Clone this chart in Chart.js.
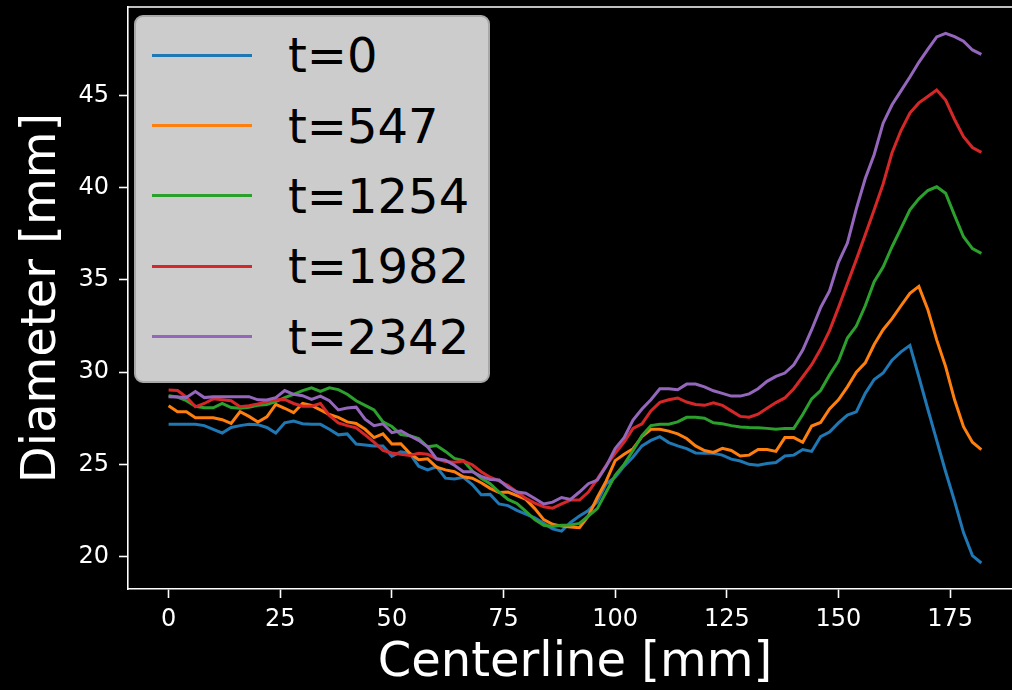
<!DOCTYPE html>
<html>
<head>
<meta charset="utf-8">
<script src="https://cdn.jsdelivr.net/npm/chart.js@4.4.1/dist/chart.umd.min.js"></script>
<style>
  html, body { margin: 0; padding: 0; background: #000; overflow: hidden; width: 1012px; height: 690px; }
  #wrap { position: relative; width: 1022px; height: 690px; }
  #legend {
    position: absolute; left: 134px; top: 15px; width: 356px; height: 368px;
    box-sizing: border-box; background: #cccccc; border: 2px solid #a8a8a8; border-radius: 9px;
    padding-top: 3px; font-family: "DejaVu Sans"; font-size: 48px; color: #000;
  }
  .row { display: flex; align-items: center; height: 70.4px; }
  .swatch { margin-left: 16px; width: 100px; height: 3px; }
  .label { margin-left: 36px; white-space: nowrap; line-height: 1; }
</style>
</head>
<body>
<div id="wrap">
  <canvas id="chart" width="1022" height="690"></canvas>
  <div id="legend"></div>
</div>
<script>
// centerline positions [mm]
var centerline = [0, 2, 4, 6, 8, 10, 12, 14, 16, 18, 20, 22, 24, 26, 28, 30, 32, 34, 36, 38,
  40, 42, 44, 46, 48, 50, 52, 54, 56, 58, 60, 62, 64, 66, 68, 70, 72, 74, 76, 78,
  80, 82, 84, 86, 88, 90, 92, 94, 96, 98, 100, 102, 104, 106, 108, 110, 112, 114, 116, 118,
  120, 122, 124, 126, 128, 130, 132, 134, 136, 138, 140, 142, 144, 146, 148, 150, 152, 154, 156, 158,
  160, 162, 164, 166, 168, 170, 172, 174, 176, 178, 180, 182];

// diameter [mm] per time step
var d0 = [27.17, 27.17, 27.17, 27.17, 27.1, 26.9, 26.7, 27.0, 27.1, 27.17, 27.15, 27.0, 26.7, 27.25, 27.35, 27.2, 27.17, 27.17, 26.9, 26.6,
  26.65, 26.1, 26.05, 26.0, 26.0, 25.45, 25.68, 25.6, 24.9, 24.7, 24.87, 24.25, 24.2, 24.3, 23.9, 23.35, 23.37, 22.85, 22.76, 22.5,
  22.3, 22.1, 21.8, 21.5, 21.38, 21.85, 22.2, 22.5, 22.97, 23.95, 24.3, 24.9, 25.4, 26.0, 26.3, 26.5, 26.18, 26.0, 25.85, 25.62,
  25.6, 25.6, 25.5, 25.28, 25.18, 25.0, 24.95, 25.05, 25.1, 25.45, 25.5, 25.8, 25.7, 26.5, 26.75, 27.25, 27.67, 27.85, 28.85, 29.6,
  29.95, 30.65, 31.1, 31.45, 29.75, 28.0, 26.3, 24.6, 23.0, 21.3, 20.05, 19.65];
var d547 = [28.18, 27.85, 27.85, 27.53, 27.53, 27.53, 27.42, 27.22, 27.85, 27.6, 27.3, 27.58, 28.25, 28.04, 27.8, 28.3, 28.2, 27.95, 27.7, 27.55,
  27.3, 27.22, 26.9, 26.45, 26.65, 26.1, 26.12, 25.6, 25.25, 25.3, 24.85, 24.7, 24.6, 24.33, 24.25, 24.0, 23.7, 23.47, 23.5, 23.3,
  23.1, 22.6, 22.0, 21.75, 21.65, 21.6, 21.56, 22.2, 23.2, 24.1, 25.2, 25.55, 25.85, 26.5, 26.9, 26.9, 26.8, 26.65, 26.4, 26.0,
  25.75, 25.65, 25.87, 25.75, 25.45, 25.5, 25.8, 25.8, 25.7, 26.45, 26.45, 26.2, 27.08, 27.27, 28.0, 28.5, 29.2, 30.0, 30.5, 31.5,
  32.3, 32.9, 33.6, 34.27, 34.65, 33.4, 31.75, 30.3, 28.5, 27.04, 26.2, 25.8];
var d1254 = [28.72, 28.65, 28.45, 28.15, 28.07, 28.07, 28.31, 28.08, 28.04, 28.1, 28.2, 28.25, 28.4, 28.62, 28.8, 29.0, 29.15, 28.95, 29.15, 29.05,
  28.8, 28.45, 28.2, 27.95, 27.3, 27.05, 26.62, 26.55, 26.4, 25.95, 26.02, 25.7, 25.32, 25.2, 24.65, 24.25, 23.95, 23.5, 23.1, 22.88,
  22.45, 22.0, 21.7, 21.63, 21.7, 21.71, 21.8, 22.2, 22.6, 23.5, 24.4, 25.0, 25.75, 26.55, 27.1, 27.17, 27.17, 27.3, 27.55, 27.55,
  27.5, 27.25, 27.2, 27.1, 27.03, 27.0, 26.99, 26.95, 26.9, 26.95, 26.95, 27.7, 28.55, 29.0, 29.85, 30.6, 31.85, 32.5, 33.6, 34.9,
  35.7, 36.8, 37.8, 38.8, 39.4, 39.85, 40.05, 39.7, 38.5, 37.34, 36.7, 36.44];
var d1982 = [29.03, 29.0, 28.65, 28.12, 28.3, 28.55, 28.5, 28.45, 28.12, 28.18, 28.28, 28.4, 28.5, 28.52, 28.3, 28.15, 28.15, 28.3, 27.65, 27.25,
  27.1, 26.98, 26.6, 26.2, 25.75, 25.62, 25.55, 25.48, 25.6, 25.55, 25.3, 25.15, 25.12, 25.18, 24.98, 24.6, 24.3, 24.1, 23.85, 23.5,
  23.15, 22.9, 22.7, 22.62, 22.85, 23.06, 23.06, 23.5, 24.2, 24.95, 25.6, 26.2, 26.95, 27.2, 27.9, 28.36, 28.5, 28.6, 28.38, 28.25,
  28.2, 28.34, 28.2, 27.9, 27.6, 27.56, 27.72, 28.04, 28.35, 28.6, 29.1, 29.75, 30.4, 31.25, 32.25, 33.5, 34.8, 36.1, 37.45, 38.8,
  40.2, 41.9, 43.1, 44.05, 44.6, 44.95, 45.3, 44.75, 43.7, 42.77, 42.18, 41.92];
var d2342 = [28.67, 28.65, 28.62, 28.95, 28.62, 28.67, 28.67, 28.67, 28.67, 28.67, 28.5, 28.49, 28.62, 29.0, 28.8, 28.72, 28.52, 28.7, 28.45, 27.95,
  28.05, 28.1, 27.45, 27.1, 27.2, 26.72, 26.82, 26.55, 26.3, 25.95, 25.3, 25.23, 24.95, 24.6, 24.6, 24.35, 24.18, 24.15, 23.75, 23.5,
  23.43, 23.15, 22.85, 22.95, 23.2, 23.1, 23.5, 23.95, 24.15, 24.9, 25.85, 26.45, 27.4, 28.0, 28.5, 29.1, 29.1, 29.05, 29.35, 29.35,
  29.2, 28.99, 28.85, 28.7, 28.7, 28.82, 29.1, 29.5, 29.77, 29.95, 30.4, 31.2, 32.3, 33.5, 34.4, 35.95, 37.0, 38.85, 40.5, 41.8,
  43.5, 44.5, 45.25, 46.0, 46.8, 47.5, 48.18, 48.37, 48.19, 47.95, 47.47, 47.23];

var seriesLabels = ['t=0', 't=547', 't=1254', 't=1982', 't=2342'];
var seriesValues = [d0, d547, d1254, d1982, d2342];
var seriesColors = ['#1f77b4', '#ff7f0e', '#2ca02c', '#d62728', '#9467bd'];

var xTicks = [0, 25, 50, 75, 100, 125, 150, 175];
var yTicks = [20, 25, 30, 35, 40, 45];

var datasets = seriesValues.map(function(vals, i) {
    return {
        label: seriesLabels[i],
        data: vals.map(function(v, j) { return {x: centerline[j], y: v}; }),
        borderColor: seriesColors[i],
        borderWidth: 3,
        pointRadius: 0,
        tension: 0,
        fill: false,
        order: seriesValues.length - i
    };
});

// top spine, the right one is off the page
var frame = {
    id: 'frame',
    afterDraw: function(chart) {
        var a = chart.chartArea, ctx = chart.ctx;
        ctx.save();
        ctx.strokeStyle = '#ffffff';
        ctx.lineWidth = 1.6;
        ctx.beginPath();
        ctx.moveTo(a.left, a.top);
        ctx.lineTo(a.right, a.top);
        ctx.stroke();
        ctx.restore();
    }
};

var tickFont = {family: 'DejaVu Sans', size: 24};
var titleFont = {family: 'DejaVu Sans', size: 48, lineHeight: 1};

var chart = new Chart(document.getElementById('chart'), {
    type: 'line',
    data: {datasets: datasets},
    options: {
        responsive: false,
        animation: false,
        layout: {padding: {top: 7, left: 0, right: 0, bottom: 0}},
        plugins: {legend: {display: false}, tooltip: {enabled: false}},
        scales: {
            x: {
                type: 'linear',
                min: -9.09,
                max: 191.1,
                afterBuildTicks: function(s) { s.ticks = xTicks.map(function(v) { return {value: v}; }); },
                afterFit: function(s) { s.height = 101; s.paddingLeft = 0; s.paddingRight = 0; },
                ticks: {color: '#ffffff', font: tickFont, padding: 7, maxRotation: 0, autoSkip: false},
                grid: {drawOnChartArea: false, color: '#ffffff', tickLength: 9, tickWidth: 1.6},
                border: {color: '#ffffff', width: 1.6},
                title: {display: true, text: 'Centerline [mm]', color: '#ffffff', font: titleFont, padding: {top: 0, bottom: 2}}
            },
            y: {
                type: 'linear',
                min: 18.24,
                max: 49.8,
                afterBuildTicks: function(s) { s.ticks = yTicks.map(function(v) { return {value: v}; }); },
                afterFit: function(s) { s.width = 128; s.paddingTop = 0; s.paddingBottom = 0; },
                ticks: {color: '#ffffff', font: tickFont, padding: 10, autoSkip: false},
                grid: {drawOnChartArea: false, color: '#ffffff', tickLength: 9, tickWidth: 1.6},
                border: {color: '#ffffff', width: 1.6},
                title: {display: true, text: 'Diameter [mm]', color: '#ffffff', font: titleFont, padding: {top: 19, bottom: 0}}
            }
        }
    },
    plugins: [frame]
});

// legend box drawn from the datasets
var legendContainer = document.getElementById('legend');
chart.data.datasets.forEach(function(ds) {
    var row = document.createElement('div');
    row.className = 'row';
    var sw = document.createElement('div');
    sw.className = 'swatch';
    sw.style.background = ds.borderColor;
    var lb = document.createElement('span');
    lb.className = 'label';
    lb.textContent = ds.label;
    row.appendChild(sw);
    row.appendChild(lb);
    legendContainer.appendChild(row);
});
</script>
</body>
</html>
